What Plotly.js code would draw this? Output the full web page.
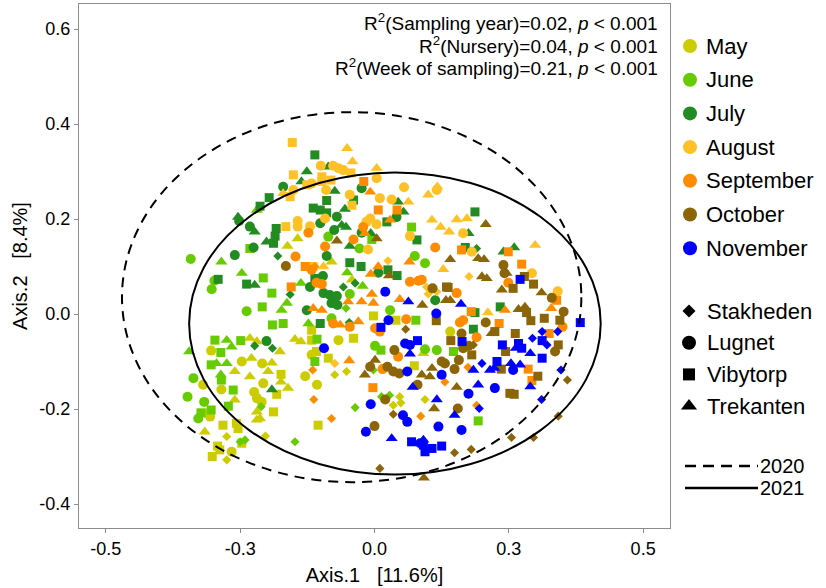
<!DOCTYPE html>
<html><head><meta charset="utf-8">
<script src="https://cdn.plot.ly/plotly-3.0.1.min.js"></script>
<style>body{margin:0;background:#fff}#chart{width:826px;height:588px}</style>
</head><body><div id="chart"></div>
<script>
// ---------- categories ----------
const months = ['May','June','July','August','September','October','November'];
const sites = ['Stakheden','Lugnet','Vibytorp','Trekanten'];
const siteCodes = ['S','L','V','T'];
const years = ['2020','2021'];
const xTickVals = [-0.5,-0.25,0,0.25,0.5];
const xTickText = ['-0.5','-0.3','0.0','0.3','0.5'];
const yTickVals = [-0.4,-0.2,0,0.2,0.4,0.6];
const yTickText = ['-0.4','-0.2','0.0','0.2','0.4','0.6'];
const statLines = [
  'R<sup>2</sup>(Sampling year)=0.02, <i>p</i> < 0.001',
  'R<sup>2</sup>(Nursery)=0.04, <i>p</i> < 0.001',
  'R<sup>2</sup>(Week of sampling)=0.21, <i>p</i> < 0.001'
];
// ---------- ordination scores (Axis.1, Axis.2) and site codes ----------
const mayX=[-0.162,-0.143,-0.232,-0.219,-0.148,-0.137,-0.117,-0.304,-0.176,-0.247,
-0.229,-0.209,-0.191,-0.260,-0.232,-0.198,-0.174,-0.174,-0.129,-0.319,
-0.285,-0.224,-0.207,-0.182,-0.161,-0.260,-0.219,-0.210,-0.312,-0.306,
-0.219,-0.188,-0.219,-0.213,-0.282,-0.257,-0.254,-0.316,-0.275,-0.247,
-0.203,-0.292,-0.288,-0.266,-0.302,-0.275,-0.080,-0.042,-0.002,0.040,
-0.117,-0.067,-0.039,0.091,-0.108,-0.117,-0.086,0.074,-0.074,-0.052,
-0.107,0.035,0.047,0.049,0.094,-0.105,0.141];
const mayY=[0.143,0.159,-0.051,-0.058,-0.053,-0.058,-0.055,-0.077,-0.079,-0.100,
-0.093,-0.104,-0.103,-0.121,-0.132,-0.121,-0.127,-0.143,-0.131,-0.149,
-0.159,-0.164,-0.146,-0.169,-0.156,-0.181,-0.177,-0.185,-0.209,-0.216,
-0.206,-0.206,-0.223,-0.220,-0.234,-0.230,-0.241,-0.248,-0.258,-0.272,
-0.257,-0.278,-0.286,-0.290,-0.300,-0.307,0.110,0.072,-0.004,-0.013,
-0.034,-0.055,-0.051,-0.083,-0.079,-0.086,-0.093,-0.109,-0.128,-0.121,
-0.149,-0.192,-0.174,-0.187,-0.180,-0.234,-0.037];
const maySite='TTTTTTVLTLTLTTTTVTLLLLLVTTLLLLTVTTVVVTSVSVVLVSTTVVVLVTVLVVSSLSSSSVL';

const junX=[-0.219,-0.232,-0.342,-0.285,-0.247,-0.303,-0.298,-0.207,-0.137,-0.191,
-0.238,-0.209,-0.173,-0.163,-0.190,-0.170,-0.123,-0.297,-0.275,-0.266,
-0.249,-0.345,-0.286,-0.294,-0.275,-0.304,-0.286,-0.337,-0.285,-0.263,
-0.348,-0.317,-0.272,-0.211,-0.304,-0.323,-0.328,-0.250,-0.241,-0.148,
0.069,-0.005,-0.086,-0.028,0.075,0.094,-0.051,-0.022,-0.046,-0.053,
0.029,-0.080,0.077,-0.107,0.094,0.116,0.001,0.012,-0.111,-0.002,
0.028,0.013,-0.036,0.147,0.193];
const junY=[0.219,0.138,0.116,0.110,0.086,0.052,0.070,0.076,0.065,0.044,
0.006,0.015,0.008,0.023,-0.023,-0.020,-0.020,-0.055,-0.055,-0.069,
-0.056,-0.079,-0.081,-0.104,-0.104,-0.107,-0.128,-0.135,-0.139,-0.160,
-0.174,-0.185,-0.194,-0.195,-0.202,-0.208,-0.220,-0.269,-0.265,-0.269,
0.183,0.157,0.163,0.138,0.122,0.107,0.087,0.059,0.042,0.012,
0.008,-0.009,-0.013,-0.053,-0.074,-0.076,-0.067,-0.076,-0.100,-0.118,
-0.171,-0.174,-0.197,-0.079,-0.225];
const junSite='TVLTTLLVTVLVTTVVTVTTVTVTTVTLVVLLVSVVLSSSVVLLLLTTLSLLVVLLLVVSSSSVV';

const julX=[-0.111,-0.126,-0.136,-0.170,-0.196,-0.213,-0.114,-0.254,-0.252,-0.232,
-0.183,-0.223,-0.201,-0.188,-0.185,-0.225,-0.260,-0.180,-0.291,-0.238,
-0.223,-0.120,-0.157,-0.126,-0.223,-0.201,-0.190,-0.191,
-0.086,-0.024,-0.074,-0.039,0.044,-0.089,-0.055,-0.101,-0.089,0.054,
-0.070,0.041,0.023,-0.101,-0.061,-0.053,-0.075,-0.024,-0.007,0.079,
-0.046,-0.089,-0.046,-0.025,0.025,0.042,0.007,-0.096,-0.111,-0.036,
-0.058,-0.095,-0.083,-0.070,-0.080,0.113,-0.069,-0.101,-0.047,0.187,
0.175,0.240,0.260,0.169,0.190,0.234,0.187,0.184];
const julY=[0.335,0.300,0.279,0.268,0.245,0.227,0.223,0.204,0.196,0.184,
0.180,0.173,0.152,0.149,0.164,0.140,0.124,0.122,0.073,0.063,
0.061,0.057,0.041,0.008,-0.067,-0.057,-0.072,-0.159,
0.310,0.265,0.259,0.240,0.236,0.239,0.221,0.219,0.213,0.215,
0.205,0.204,0.194,0.191,0.187,0.183,0.177,0.171,0.170,0.156,
0.143,0.122,0.108,0.100,0.093,0.081,0.087,0.080,0.075,0.065,
0.057,0.044,0.040,0.038,0.023,0.029,0.019,-0.020,-0.018,0.215,
0.170,0.131,0.140,0.140,0.138,0.015,0.003,-0.032];
const julSite='VTTLVVVTLLVTTVVLLSVVTLSLSLSTTLTVTVTVVTLLVLTTLLTVTLVVVVLLVSSLLLLLLVSVTTTVSVVV';

const augX=[-0.153,-0.151,-0.126,-0.151,-0.170,-0.157,-0.165,-0.143,-0.143,-0.120,
-0.051,-0.041,-0.100,-0.077,-0.067,-0.058,-0.044,0.004,-0.098,-0.098,
-0.081,-0.117,0.004,-0.090,-0.046,0.010,0.032,0.063,0.055,0.117,
0.116,0.100,-0.042,-0.092,-0.008,-0.015,0.004,0.107,0.123,0.066,
-0.012,0.025,0.128,-0.114,-0.095,0.097,0.100,0.116,-0.074,0.153,
0.172,0.139,0.165,0.299,0.181,0.293,0.176,0.341,0.211];
const augY=[0.361,0.293,0.272,0.261,0.254,0.247,0.184,0.196,0.184,0.185,
0.349,0.321,0.312,0.312,0.307,0.303,0.297,0.307,0.289,0.279,
0.282,0.275,0.286,0.261,0.251,0.244,0.241,0.236,0.267,0.268,
0.261,0.251,0.229,0.201,0.201,0.194,0.189,0.198,0.183,0.164,
0.136,0.112,0.094,0.100,0.100,0.057,0.042,0.047,-0.104,0.199,
0.201,0.173,0.170,0.145,0.131,0.086,0.079,0.048,0.003];
const augSite='VVVLTVVLLLTTLLLLVTVVVLLLLLLTLTLTVLLLLTTLLSTVTSSSSTTTLTLLSLT';

const sepX=[-0.123,-0.147,-0.129,-0.111,-0.155,-0.020,-0.008,0.007,0.042,0.029,
-0.021,-0.018,-0.039,-0.092,0.113,0.065,-0.117,0.007,-0.007,0.066,
0.082,0.088,-0.108,-0.098,-0.005,0.047,-0.049,-0.024,-0.002,-0.114,
-0.098,-0.030,0.059,-0.064,-0.077,-0.046,0.001,0.010,0.044,-0.047,
0.015,0.131,-0.115,-0.003,-0.113,0.086,-0.080,0.249,0.162,0.274,
0.249,0.153,0.339,0.243,0.329,0.180,0.232,0.159,0.165,0.350,
0.190,0.325,0.174,0.286,0.293,0.190];
const sepY=[0.171,0.121,0.100,0.100,0.057,0.279,0.257,0.219,0.219,0.198,
0.183,0.170,0.157,0.142,0.140,0.110,0.093,0.100,0.084,0.068,
0.070,0.072,0.066,0.063,0.042,0.031,0.026,0.026,0.023,0.012,
0.008,-0.016,-0.011,-0.023,-0.020,-0.027,-0.030,-0.037,-0.090,-0.098,
-0.116,-0.143,-0.118,-0.155,-0.180,-0.215,-0.220,0.131,0.135,0.105,
0.066,0.044,0.029,0.008,0.012,0.005,-0.020,-0.018,-0.013,-0.027,
-0.049,-0.041,-0.112,-0.116,-0.140,-0.192];
const sepSite='LLVSVVTVVTLTLLLTLTTLLLLLTTTTTTTTLTLLLLLTLSSVSSSVVVLLVTTVVLLLLVSVVS';

const octX=[-0.165,0.004,-0.070,0.027,0.108,0.134,0.089,0.133,0.115,0.058,
0.037,0.125,0.131,0.001,-0.018,-0.008,0.024,0.035,0.046,0.107,
0.088,0.103,0.080,0.020,0.111,0.035,0.000,0.010,0.092,0.207,
0.141,0.193,0.204,0.240,0.242,0.246,0.200,0.209,0.279,0.296,
0.137,0.237,0.258,0.311,0.330,0.141,0.268,0.280,0.283,0.291,
0.316,0.352,0.207,0.345,0.162,0.218,0.224,0.262,0.142,0.165,
0.175,0.342,0.184,0.181,0.244,0.336,0.157,0.236,0.149,0.304,
0.359,0.153,0.252,0.260,0.155,0.342,0.255,0.296,0.149,0.180];
const octY=[0.101,0.159,0.154,0.081,0.054,0.057,0.019,0.029,-0.014,-0.032,
-0.076,-0.100,-0.104,-0.097,-0.128,-0.111,-0.111,-0.121,-0.125,-0.114,
-0.128,-0.132,-0.149,-0.180,-0.199,-0.211,-0.236,-0.325,-0.345,0.189,
0.115,0.117,0.115,0.103,0.086,0.086,0.079,0.075,0.079,0.063,
0.056,0.051,0.054,0.045,0.034,0.029,0.010,0.015,0.003,-0.014,
-0.009,0.005,-0.018,-0.013,-0.041,-0.041,-0.037,-0.041,-0.056,-0.072,
-0.067,-0.065,-0.065,-0.086,-0.079,-0.079,-0.097,-0.116,-0.116,-0.131,
-0.139,-0.154,-0.167,-0.169,-0.199,-0.215,-0.260,-0.260,-0.292,-0.285];
const octSite='LTTTLVTTVSLLLTTLLLLTTTLLTSLSTTTTTLLTTTVVVTVTLTTTVVVLLVLTVVVLLVSVVLLVLVSTVVLSSSSS';

const novX=[0.020,0.063,0.115,0.026,0.012,-0.094,0.057,0.066,0.080,0.066,
0.061,0.125,0.071,0.116,-0.007,0.053,0.061,0.119,-0.016,0.032,
0.069,0.091,0.094,0.107,0.125,0.091,0.085,0.161,0.271,0.383,
0.312,0.341,0.163,0.238,0.268,0.274,0.294,0.312,0.321,0.263,
0.290,0.312,0.200,0.228,0.254,0.271,0.184,0.215,0.223,0.258,
0.347,0.193,0.290,0.224,0.175,0.311,0.195,0.149,0.162];
const novY=[0.047,0.026,0.001,-0.013,-0.028,-0.072,-0.062,-0.065,-0.056,-0.084,
-0.121,-0.128,-0.154,-0.180,-0.190,-0.213,-0.227,-0.237,-0.248,-0.262,
-0.269,-0.276,-0.290,-0.283,-0.278,-0.265,-0.272,0.021,0.073,-0.018,
-0.037,-0.037,-0.058,-0.065,-0.062,-0.072,-0.051,-0.056,-0.065,-0.072,
-0.083,-0.093,-0.104,-0.100,-0.104,-0.107,-0.118,-0.118,-0.114,-0.118,
-0.118,-0.149,-0.153,-0.156,-0.168,-0.180,-0.199,-0.213,-0.244];
const novSite='LTLLVLLLVTLLTTLLLLLTVVVVVTLTVVSSVVVVSVSTTVSVTTTTTLSTTLLSSTL';

// 95% ellipses per sampling year: [xmin, xmax, ymin, ymax]
const ellipse2020=[-0.470,0.385,-0.354,0.425];
const ellipse2021=[-0.345,0.421,-0.338,0.298];

// ---------- styles ----------
const monthColors=['#CCCC00','#66CC00','#228B22','#FFC125','#FF8C00','#8B6508','#0000FF'];
const siteSymbols={S:'diamond',L:'circle',V:'square',T:'triangle-up'};
const siteSizes={S:7,L:10,V:9,T:10.5};
const FONT='"Liberation Sans", Arial, Helvetica, sans-serif';

const monthData=[[mayX,mayY,maySite],[junX,junY,junSite],[julX,julY,julSite],
  [augX,augY,augSite],[sepX,sepY,sepSite],[octX,octY,octSite],[novX,novY,novSite]];

const traces=[];
monthData.forEach((d,i)=>{
  const codes=d[2].split('');
  traces.push({type:'scatter',mode:'markers',x:d[0],y:d[1],name:months[i],
    xaxis:'x',yaxis:'y',showlegend:false,hoverinfo:'skip',
    marker:{color:monthColors[i],opacity:1,symbol:codes.map(c=>siteSymbols[c]),
      size:codes.map(c=>siteSizes[c]),line:{width:0}}});
});

// ---------- custom legend on a pixel-coordinate overlay axis ----------
const legX=690, legY0=46, legDY=33.7;
traces.push({type:'scatter',mode:'markers',xaxis:'x2',yaxis:'y2',showlegend:false,hoverinfo:'skip',
  x:months.map(()=>legX),y:months.map((m,i)=>legY0+i*legDY),
  marker:{color:monthColors,opacity:1,size:14,symbol:'circle',line:{width:0}}});
const siteY0=311, siteDY=31.7;
const legSiteSym=siteCodes.map(c=>siteSymbols[c]);
traces.push({type:'scatter',mode:'markers',xaxis:'x2',yaxis:'y2',showlegend:false,hoverinfo:'skip',
  x:sites.map(()=>689),y:sites.map((s,i)=>siteY0+i*siteDY),
  marker:{color:'#000',opacity:1,size:[10,14,12,14],symbol:legSiteSym,line:{width:0}}});
const yearY=[466,488], yearDash=['11px,7px','solid'];
years.forEach((yr,i)=>{
  traces.push({type:'scatter',mode:'lines',xaxis:'x2',yaxis:'y2',showlegend:false,hoverinfo:'skip',
    x:[685,758],y:[yearY[i],yearY[i]],line:{color:'#000',width:2.5,dash:yearDash[i]}});
});

const annotations=[];
months.forEach((m,i)=>annotations.push({xref:'x2',yref:'y2',x:704,y:legY0+i*legDY,text:m,
  showarrow:false,xanchor:'left',yanchor:'middle',font:{family:FONT,size:22,color:'#000'}}));
sites.forEach((s,i)=>annotations.push({xref:'x2',yref:'y2',x:705,y:siteY0+i*siteDY,text:s,
  showarrow:false,xanchor:'left',yanchor:'middle',font:{family:FONT,size:22,color:'#000'}}));
years.forEach((yr,i)=>annotations.push({xref:'x2',yref:'y2',x:758,y:yearY[i],text:yr,
  showarrow:false,xanchor:'left',yanchor:'middle',font:{family:FONT,size:20,color:'#000'}}));
const statY=[0.9655,0.9225,0.8805];
statLines.forEach((t,i)=>annotations.push({xref:'paper',yref:'paper',x:0.7778,y:statY[i],text:t,
  showarrow:false,xanchor:'right',yanchor:'middle',font:{family:FONT,size:19,color:'#000'}}));

const shapes=[
  {type:'circle',xref:'x',yref:'y',x0:ellipse2020[0],x1:ellipse2020[1],y0:ellipse2020[2],y1:ellipse2020[3],
   line:{color:'#000',width:2,dash:'10px,7px'},layer:'above'},
  {type:'circle',xref:'x',yref:'y',x0:ellipse2021[0],x1:ellipse2021[1],y0:ellipse2021[2],y1:ellipse2021[3],
   line:{color:'#000',width:2},layer:'above'}
];

const axisCommon={showgrid:false,zeroline:false,showline:true,mirror:true,linecolor:'#8c8c8c',linewidth:1,
  ticks:'outside',ticklen:4,tickcolor:'#8c8c8c',tickwidth:1,tickfont:{family:FONT,size:18,color:'#000'}};
const layout={
  width:826,height:588,paper_bgcolor:'#fff',plot_bgcolor:'#fff',
  margin:{l:79,r:0,t:4,b:60},showlegend:false,
  xaxis:Object.assign({},axisCommon,{domain:[0,591/747],range:[-0.55,0.55],tickmode:'array',
    tickvals:xTickVals,ticktext:xTickText,
    title:{text:'Axis.1\u00a0\u00a0\u00a0[11.6%]',font:{family:FONT,size:20,color:'#000'},standoff:10}}),
  yaxis:Object.assign({},axisCommon,{domain:[0,1],range:[-0.4505,0.6527],tickmode:'array',
    tickvals:yTickVals,ticktext:yTickText,
    title:{text:'Axis.2\u00a0\u00a0\u00a0[8.4%]',font:{family:FONT,size:20,color:'#000'},standoff:6}}),
  xaxis2:{domain:[591/747,1],range:[670,826],visible:false,anchor:'y2',fixedrange:true},
  yaxis2:{domain:[0,1],range:[528,4],visible:false,anchor:'x2',fixedrange:true},
  annotations:annotations,shapes:shapes,font:{family:FONT}
};
Plotly.newPlot('chart',traces,layout,{displayModeBar:false,staticPlot:true});
</script></body></html>
